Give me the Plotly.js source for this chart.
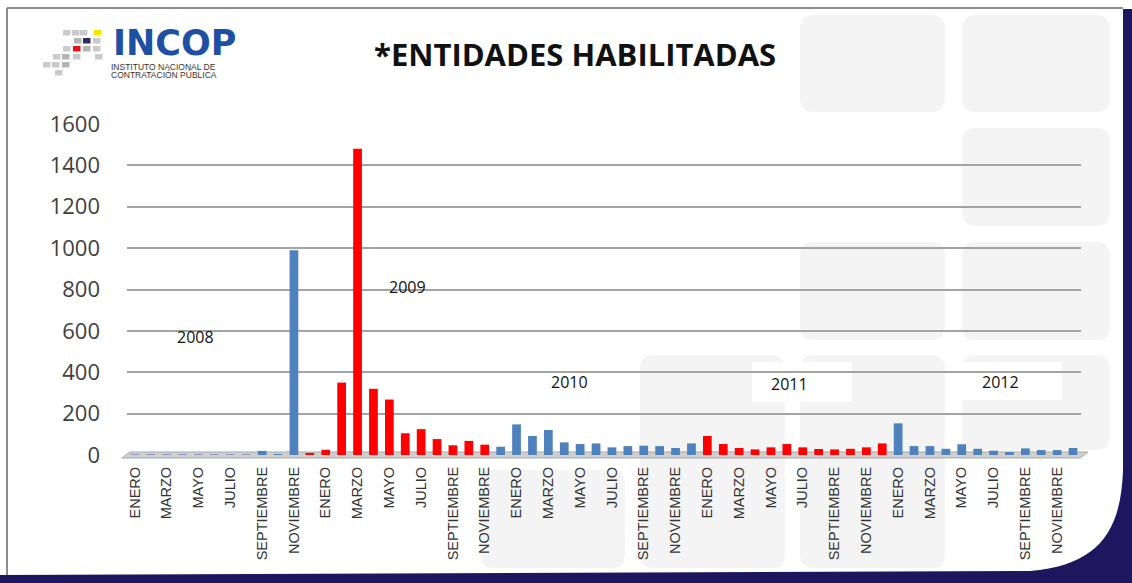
<!DOCTYPE html>
<html>
<head>
<meta charset="utf-8">
<script src="https://cdn.plot.ly/plotly-3.0.1.min.js"></script>
<style>
  html, body { margin: 0; padding: 0; background: #ffffff; }
  #chart { width: 1132px; height: 583px; }
</style>
</head>
<body>
<div id="chart"></div>
<script>
// ---- data ----
const years = [2008, 2009, 2010, 2011, 2012];
const monthNames = ["ENERO","FEBRERO","MARZO","ABRIL","MAYO","JUNIO","JULIO","AGOSTO","SEPTIEMBRE","OCTUBRE","NOVIEMBRE","DICIEMBRE"];
const tickMonths = ["ENERO","MARZO","MAYO","JULIO","SEPTIEMBRE","NOVIEMBRE"];
const values2008 = [3, 3, 3, 3, 3, 3, 3, 3, 20, 5, 990, 10];
const values2009 = [25, 350, 1480, 320, 268, 105, 125, 77, 47, 68, 50, 40];
const values2010 = [148, 92, 121, 61, 53, 56, 37, 43, 45, 43, 34, 56];
const values2011 = [92, 53, 34, 27, 37, 53, 37, 29, 27, 30, 37, 56];
const values2012 = [153, 43, 43, 30, 52, 30, 21, 14, 32, 24, 24, 34];
const yearLabels = ["2008", "2009", "2010", "2011", "2012"];
const yTicks = [0, 200, 400, 600, 800, 1000, 1200, 1400, 1600];
// index ranges (inclusive) of the bars drawn in red in the original
const redRanges = [[11, 22], [36, 47]];

// ---- build ----
const values = [].concat(values2008, values2009, values2010, values2011, values2012);
const xIdx = values.map((_, i) => i);
const hoverNames = values.map((_, i) => monthNames[i % 12] + " " + years[Math.floor(i / 12)]);
const BLUE = "#4F81BD", RED = "#FF0000";
const colors = xIdx.map(i => redRanges.some(r => i >= r[0] && i <= r[1]) ? RED : BLUE);
const tickvals = [], ticktext = [];
years.forEach((y, yi) => tickMonths.forEach((m, mi) => { tickvals.push(yi * 12 + mi * 2); ticktext.push(m); }));

// ---- pixel helpers for decoration ----
const W = 1132, H = 583;
const M = { l: 127, r: 51, t: 124, b: 128 };
const PW = W - M.l - M.r, PH = H - M.t - M.b;
const px = x => (x - M.l) / PW;
const py = y => (H - M.b - y) / PH;
const P = (x, y) => px(x).toFixed(5) + "," + py(y).toFixed(5);

function rect(x0, y0, x1, y1, fill, layer) {
  return { type: "rect", xref: "paper", yref: "paper", x0: px(x0), x1: px(x1), y0: py(y1), y1: py(y0),
           fillcolor: fill, line: { width: 0 }, layer: layer || "above" };
}
function roundRect(x0, y0, x1, y1, r, fill) {
  const d = "M" + P(x0 + r, y0) + " L" + P(x1 - r, y0) + " Q" + P(x1, y0) + " " + P(x1, y0 + r) +
            " L" + P(x1, y1 - r) + " Q" + P(x1, y1) + " " + P(x1 - r, y1) +
            " L" + P(x0 + r, y1) + " Q" + P(x0, y1) + " " + P(x0, y1 - r) +
            " L" + P(x0, y0 + r) + " Q" + P(x0, y0) + " " + P(x0 + r, y0) + " Z";
  return { type: "path", xref: "paper", yref: "paper", path: d, fillcolor: fill, line: { width: 0 }, layer: "below" };
}
function line(x0, y0, x1, y1, color, w) {
  return { type: "line", xref: "paper", yref: "paper", x0: px(x0), y0: py(y0), x1: px(x1), y1: py(y1),
           line: { color: color, width: w }, layer: "above" };
}

const shapes = [];
// faint background tiles
const BG = "#f4f4f4";
[[800, 15, 945, 112], [962, 15, 1110, 112], [962, 128, 1110, 226], [800, 242, 945, 340], [962, 242, 1110, 340],
 [640, 355, 785, 568], [800, 355, 945, 568], [962, 355, 1110, 450], [480, 470, 625, 568]]
  .forEach(b => shapes.push(roundRect(b[0], b[1], b[2], b[3], 14, BG)));

// white boxes behind year labels (cover the gridlines)
const yearBoxes = [[157, 315, 258, 358], [368, 266, 470, 308], [530, 362, 632, 402], [752, 362, 852, 402], [962, 362, 1062, 400]];
yearBoxes.forEach(b => shapes.push(rect(b[0], b[1], b[2], b[3], "#ffffff", "between")));

// floor under the bars
shapes.push({ type: "path", xref: "paper", yref: "paper",
  path: "M" + P(122, 458) + " L" + P(1080, 458) + " L" + P(1088, 452) + " L" + P(130, 452) + " Z",
  fillcolor: "#d0d0d0", line: { color: "#a8a8a8", width: 1 }, layer: "between" });

// frame
shapes.push(line(7, 8, 1123, 8, "#8c8c8c", 2));
shapes.push(line(7, 8, 7, 576, "#8c8c8c", 2));
const NAVY = "#1f1660";
shapes.push({ type: "path", xref: "paper", yref: "paper",
  path: "M" + P(1123, 9) + " L" + P(W, 9) + " L" + P(W, H) + " L" + P(0, H) + " L" + P(0, 575) +
        " L" + P(1030, 571) + " C" + P(1100, 565) + " " + P(1121, 530) + " " + P(1123, 470) + " Z",
  fillcolor: NAVY, line: { width: 0 }, layer: "above" });

// logo squares
const G1 = "#b4b4b4", G2 = "#cacaca";
const logoSq = [
  [63, 30, G2], [72, 30, G2], [80, 30, G2], [94, 30, "#f7e600"],
  [74, 38, G1], [83, 38, "#2e2c5c"], [93, 38, G2],
  [63, 46, G2], [73, 46, "#e3121b"], [83, 46, G1], [93, 46, G2],
  [53, 54, G2], [62, 54, G1], [73, 54, G2], [95, 54, G2],
  [43, 62, G2], [52, 62, G2], [62, 62, G1],
  [55, 70, G2]
];
logoSq.forEach(s => shapes.push(rect(s[0], s[1], s[0] + 7.5, s[1] + 5.5, s[2], "above")));

const annotations = [];
function ann(text, x, y, font, extra) {
  annotations.push(Object.assign({ text: text, xref: "paper", yref: "paper", x: px(x), y: py(y),
    xanchor: "center", yanchor: "middle", showarrow: false, font: font }, extra || {}));
}
ann("*ENTIDADES HABILITADAS", 575, 54, { family: "Open Sans", size: 31, color: "#111111", weight: 700 });
ann("<b>INCOP</b>", 174, 43, { family: "DejaVu Sans", size: 35, color: "#1d4fa3" });
ann("INSTITUTO NACIONAL DE", 109, 67, { family: "Liberation Sans", size: 8.5, color: "#333333" }, { xanchor: "left" });
ann("CONTRATACIÓN PÚBLICA", 109, 75, { family: "Liberation Sans", size: 8.5, color: "#333333" }, { xanchor: "left" });
const yearPos = [[195, 337], [407, 287], [569, 382], [789, 384], [1000, 382]];
yearLabels.forEach((t, i) => ann(t, yearPos[i][0], yearPos[i][1], { family: "Open Sans", size: 16, color: "#111111" }));

const trace = {
  type: "bar", x: xIdx, y: values, customdata: hoverNames,
  hovertemplate: "%{customdata}: %{y}<extra></extra>",
  marker: { color: colors, line: { width: 0 } }
};

const layout = {
  width: W, height: H,
  margin: M,
  paper_bgcolor: "#ffffff", plot_bgcolor: "rgba(0,0,0,0)",
  showlegend: false, bargap: 0.45,
  xaxis: {
    range: [-0.5, 59.5], tickvals: tickvals, ticktext: ticktext, tickangle: -90,
    showgrid: false, zeroline: false, showline: false, ticks: "",
    ticklabelstandoff: 8,
    tickfont: { family: "Liberation Sans Narrow, Liberation Sans, Arial", size: 14.5, color: "#333333" }
  },
  yaxis: {
    range: [0, 1600], tickvals: yTicks, showgrid: true, gridcolor: "#a3a3a3", gridwidth: 2,
    zeroline: false, showline: false, ticks: "", ticklabelstandoff: 26,
    tickfont: { family: "Open Sans", size: 22, color: "#404040" }
  },
  shapes: shapes,
  annotations: annotations
};

Plotly.newPlot("chart", [trace], layout, { displayModeBar: false, staticPlot: true });
</script>
</body>
</html>
